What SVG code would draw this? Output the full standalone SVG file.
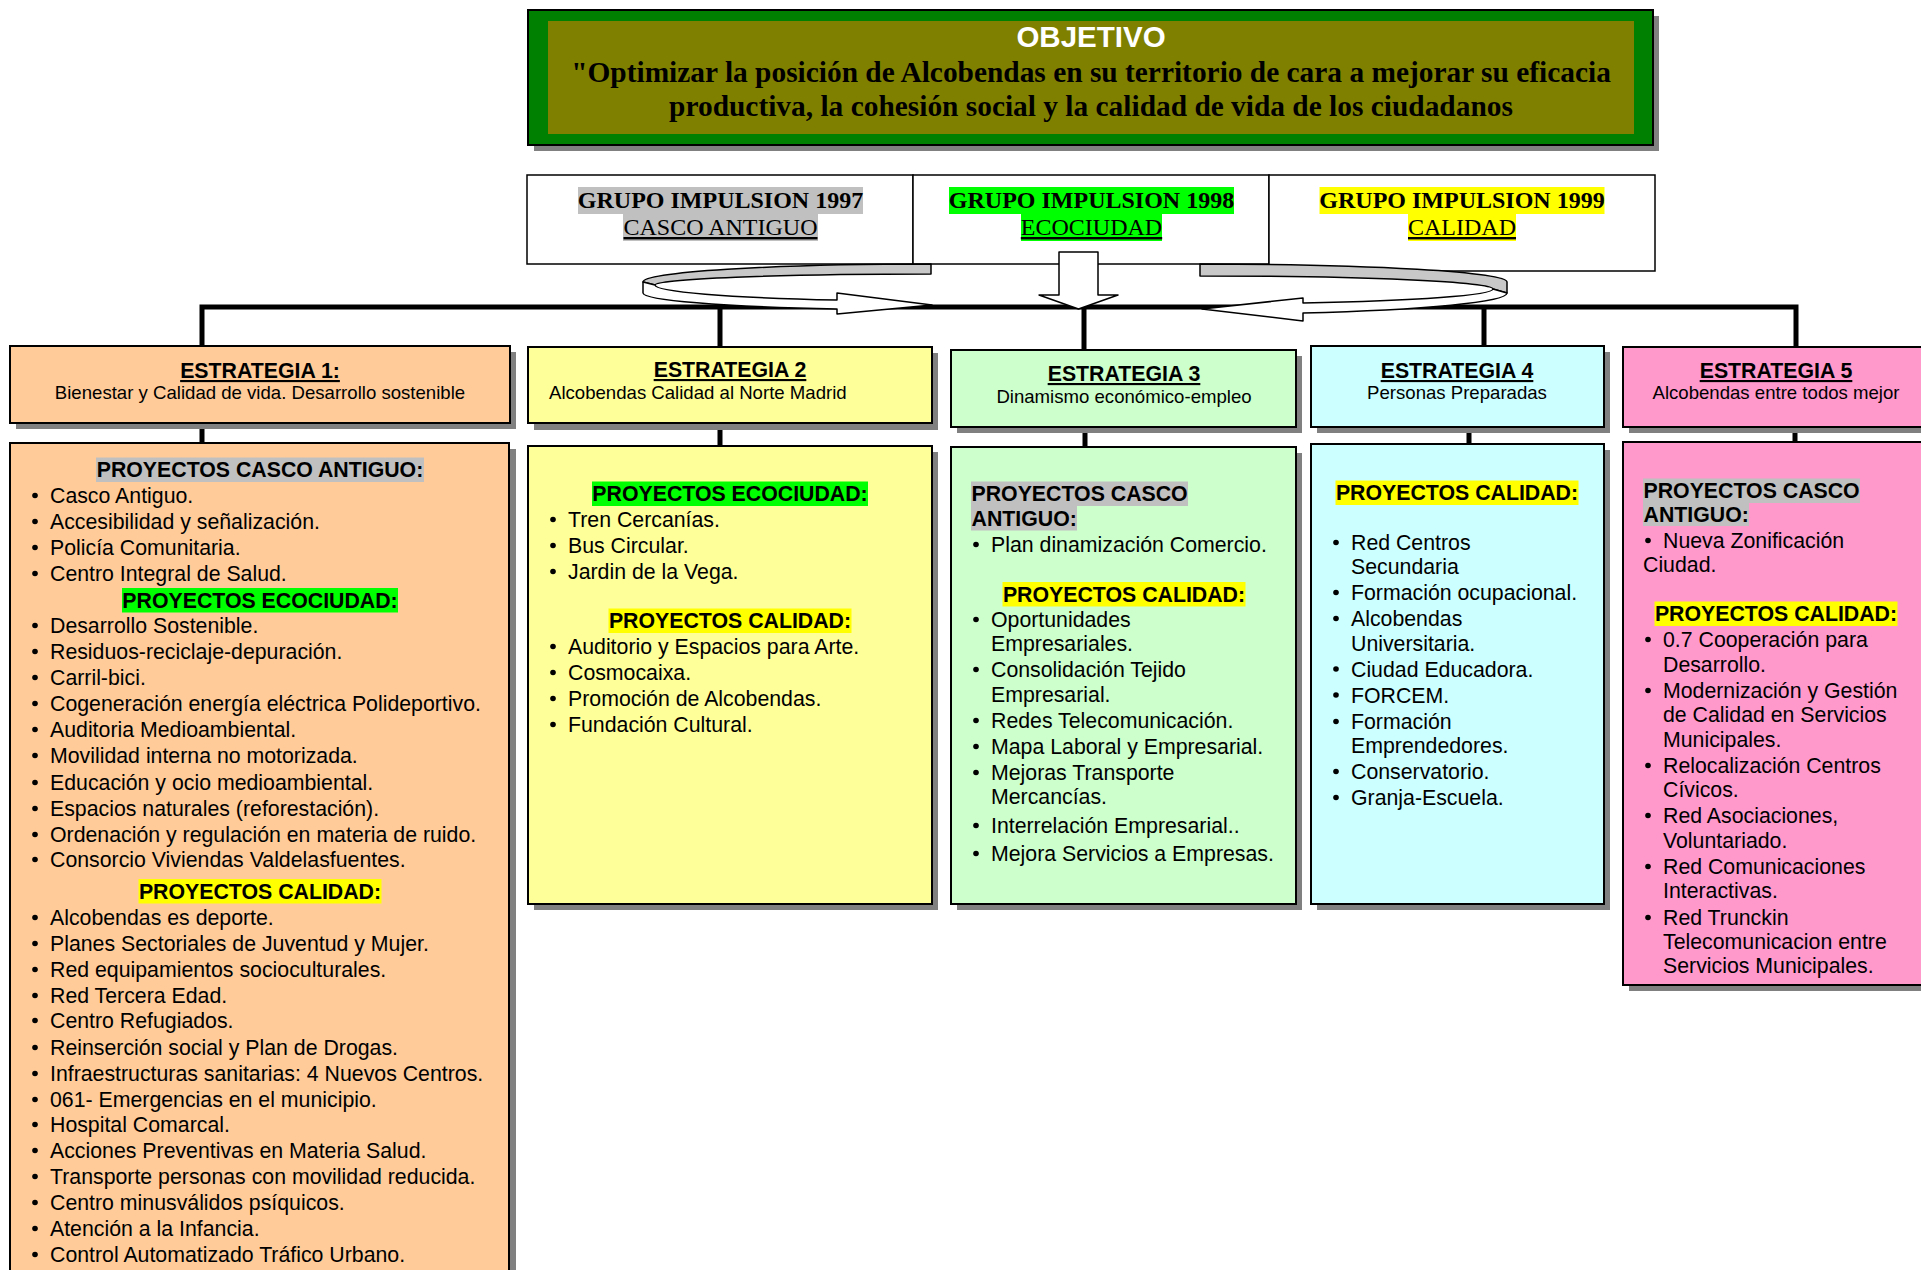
<svg xmlns="http://www.w3.org/2000/svg" width="1921" height="1270" viewBox="0 0 1921 1270">
<style>
.f{font-family:"Liberation Sans",Arial,sans-serif;font-size:21.3px;fill:#000}
.s{font-family:"Liberation Serif","Times New Roman",serif;font-size:24px;fill:#000}
.b{font-weight:bold}
.c{text-anchor:middle}
.sub{font-size:18.6px}
.u{text-decoration:underline}
.bx{stroke:#000;stroke-width:2}
.gb{fill:#fff;stroke:#000;stroke-width:1.5}
.sh{fill:#808080}
.hg{fill:#C0C0C0}.hgr{fill:#00FF00}.hy{fill:#FFFF00}
.e1{fill:#FFCC99}.e2{fill:#FFFF99}.e3{fill:#CCFFCC}.e4{fill:#CCFFFF}.e5{fill:#FF99CC}
.ln{fill:none;stroke:#000;stroke-width:5}
.ar{stroke:#000;stroke-width:1.5;stroke-linejoin:round}
</style>
<defs>
<circle id="bu" r="2.8" fill="#000"/>
</defs>

<!-- Objective -->
<g id="objetivo">
<rect x="534" y="16" width="1125" height="135" class="sh"/>
<rect x="528" y="10" width="1125" height="135" fill="#008000" stroke="#000" stroke-width="2"/>
<rect x="548" y="21" width="1086" height="113" fill="#808000"/>
<text x="1091" y="47" class="f b c" style="font-size:29.5px;fill:#fff">OBJETIVO</text>
<text x="1091" y="82" class="s b c" style="font-size:29.4px">"Optimizar la posición de Alcobendas en su territorio de cara a mejorar su eficacia</text>
<text x="1091" y="116" class="s b c" style="font-size:29.4px">productiva, la cohesión social y la calidad de vida de los ciudadanos</text>
</g>

<!-- Grupos -->
<g id="grupo1997">
<rect x="527" y="175" width="386" height="89" class="gb"/>
<rect x="578" y="187" width="285" height="27" class="hg"/>
<rect x="623" y="214" width="195" height="27" class="hg"/>
<text x="720.5" y="208" class="s b c">GRUPO IMPULSION 1997</text>
<text x="720.5" y="235" class="s c u">CASCO ANTIGUO</text>
</g>
<g id="grupo1998">
<rect x="913" y="175" width="356" height="89" class="gb"/>
<rect x="949" y="187" width="285" height="27" class="hgr"/>
<rect x="1021" y="214" width="141" height="27" class="hgr"/>
<text x="1091.5" y="208" class="s b c">GRUPO IMPULSION 1998</text>
<text x="1091.5" y="235" class="s c u">ECOCIUDAD</text>
</g>
<g id="grupo1999">
<rect x="1269" y="175" width="386" height="96" class="gb"/>
<rect x="1319.5" y="187" width="285" height="27" class="hy"/>
<rect x="1408" y="214" width="108" height="27" class="hy"/>
<text x="1462" y="208" class="s b c">GRUPO IMPULSION 1999</text>
<text x="1462" y="235" class="s c u">CALIDAD</text>
</g>

<!-- Connectors -->
<g id="connectors">
<path class="ln" d="M202,346V307H1796V347"/>
<path class="ln" d="M720,307V347M1084,307V350M1484,307V346"/>
<path class="ln" d="M202,423V443M720,423V446M1085,427V447M1469,427V444M1795,427V442"/>
<!-- left curved arrow -->
<path class="ar" fill="#C8C8C8" d="M931,264A288 18 0 0 0 643,282L655,285A276 11 0 0 1 931,274Z"/>
<path class="ar" fill="#fff" d="M643,282L655,285A276 16 0 0 0 837,300L837,293L932,305L837,314L837,309A288 17 0 0 1 643,293Z"/>
<!-- right curved arrow -->
<path class="ar" fill="#C8C8C8" d="M1200,264A307 18 0 0 1 1507,282L1507,293L1493,289A293 13 0 0 0 1200,276Z"/>
<path class="ar" fill="#fff" d="M1493,289A293 15 0 0 1 1303,303L1303,298L1202,309L1303,321L1303,313A307 21.2 0 0 0 1507,293Z"/>
<!-- down arrow -->
<path class="ar" fill="#fff" stroke-linejoin="miter" d="M1059,252H1098V295H1118L1078.5,309L1039,295H1059Z"/>
</g>

<!-- Estrategia 1 -->
<g id="estrategia1">
<rect x="16" y="352" width="500" height="77" class="sh"/>
<rect x="10" y="346" width="500" height="77" class="e1 bx"/>
<text x="260" y="378" class="f b c u">ESTRATEGIA 1:</text>
<text x="260" y="399" class="f c sub">Bienestar y Calidad de vida. Desarrollo sostenible</text>
</g>
<g id="proyectos1">
<rect x="16" y="449" width="500" height="850" class="sh"/>
<rect x="10" y="443" width="499" height="850" class="e1 bx"/>
<rect x="96" y="457.5" width="328" height="24.5" class="hg"/>
<text x="260" y="477" class="f b c">PROYECTOS CASCO ANTIGUO:</text>
<g class="f">
<use href="#bu" x="35" y="495.5"/><text x="50" y="503">Casco Antiguo.</text>
<use href="#bu" x="35" y="521.5"/><text x="50" y="529">Accesibilidad y señalización.</text>
<use href="#bu" x="35" y="547.5"/><text x="50" y="555">Policía Comunitaria.</text>
<use href="#bu" x="35" y="573.5"/><text x="50" y="581">Centro Integral de Salud.</text>
</g>
<rect x="122" y="588" width="276" height="24.5" class="hgr"/>
<text x="260" y="607.5" class="f b c">PROYECTOS ECOCIUDAD:</text>
<g class="f">
<use href="#bu" x="35" y="625.5"/><text x="50" y="633">Desarrollo Sostenible.</text>
<use href="#bu" x="35" y="651.5"/><text x="50" y="659">Residuos-reciclaje-depuración.</text>
<use href="#bu" x="35" y="677.5"/><text x="50" y="685">Carril-bici.</text>
<use href="#bu" x="35" y="703.5"/><text x="50" y="711">Cogeneración energía eléctrica Polideportivo.</text>
<use href="#bu" x="35" y="729.5"/><text x="50" y="737">Auditoria Medioambiental.</text>
<use href="#bu" x="35" y="755.5"/><text x="50" y="763">Movilidad interna no motorizada.</text>
<use href="#bu" x="35" y="782.5"/><text x="50" y="790">Educación y ocio medioambiental.</text>
<use href="#bu" x="35" y="808.5"/><text x="50" y="816">Espacios naturales (reforestación).</text>
<use href="#bu" x="35" y="834.5"/><text x="50" y="842">Ordenación y regulación en materia de ruido.</text>
<use href="#bu" x="35" y="859.5"/><text x="50" y="867">Consorcio Viviendas Valdelasfuentes.</text>
</g>
<rect x="138.5" y="879" width="243" height="24.5" class="hy"/>
<text x="260" y="898.5" class="f b c">PROYECTOS CALIDAD:</text>
<g class="f">
<use href="#bu" x="35" y="917.5"/><text x="50" y="925">Alcobendas es deporte.</text>
<use href="#bu" x="35" y="943.5"/><text x="50" y="951">Planes Sectoriales de Juventud y Mujer.</text>
<use href="#bu" x="35" y="969.5"/><text x="50" y="977">Red equipamientos socioculturales.</text>
<use href="#bu" x="35" y="995.5"/><text x="50" y="1003">Red Tercera Edad.</text>
<use href="#bu" x="35" y="1020.5"/><text x="50" y="1028">Centro Refugiados.</text>
<use href="#bu" x="35" y="1047.5"/><text x="50" y="1055">Reinserción social y Plan de Drogas.</text>
<use href="#bu" x="35" y="1073.5"/><text x="50" y="1081">Infraestructuras sanitarias: 4 Nuevos Centros.</text>
<use href="#bu" x="35" y="1099.5"/><text x="50" y="1107">061- Emergencias en el municipio.</text>
<use href="#bu" x="35" y="1124.5"/><text x="50" y="1132">Hospital Comarcal.</text>
<use href="#bu" x="35" y="1150.5"/><text x="50" y="1158">Acciones Preventivas en Materia Salud.</text>
<use href="#bu" x="35" y="1176.5"/><text x="50" y="1184">Transporte personas con movilidad reducida.</text>
<use href="#bu" x="35" y="1202.5"/><text x="50" y="1210">Centro minusválidos psíquicos.</text>
<use href="#bu" x="35" y="1228.5"/><text x="50" y="1236">Atención a la Infancia.</text>
<use href="#bu" x="35" y="1254.5"/><text x="50" y="1262">Control Automatizado Tráfico Urbano.</text>
</g>
</g>

<!-- Estrategia 2 -->
<g id="estrategia2">
<rect x="534" y="353" width="404" height="77" class="sh"/>
<rect x="528" y="347" width="404" height="76" class="e2 bx"/>
<text x="730" y="377" class="f b c u">ESTRATEGIA 2</text>
<text x="549" y="399" class="f sub">Alcobendas Calidad al Norte Madrid</text>
</g>
<g id="proyectos2">
<rect x="534" y="452" width="404" height="458" class="sh"/>
<rect x="528" y="446" width="404" height="458" class="e2 bx"/>
<rect x="592" y="481.5" width="276" height="24.5" class="hgr"/>
<text x="730" y="501" class="f b c">PROYECTOS ECOCIUDAD:</text>
<g class="f">
<use href="#bu" x="553" y="519.5"/><text x="568" y="527">Tren Cercanías.</text>
<use href="#bu" x="553" y="545.5"/><text x="568" y="553">Bus Circular.</text>
<use href="#bu" x="553" y="571.5"/><text x="568" y="579">Jardin de la Vega.</text>
</g>
<rect x="608.5" y="608.5" width="243" height="24.5" class="hy"/>
<text x="730" y="628" class="f b c">PROYECTOS CALIDAD:</text>
<g class="f">
<use href="#bu" x="553" y="646.5"/><text x="568" y="654">Auditorio y Espacios para Arte.</text>
<use href="#bu" x="553" y="672.5"/><text x="568" y="680">Cosmocaixa.</text>
<use href="#bu" x="553" y="698.5"/><text x="568" y="706">Promoción de Alcobendas.</text>
<use href="#bu" x="553" y="724.5"/><text x="568" y="732">Fundación Cultural.</text>
</g>
</g>

<!-- Estrategia 3 -->
<g id="estrategia3">
<rect x="957" y="356" width="345" height="77" class="sh"/>
<rect x="951" y="350" width="345" height="77" class="e3 bx"/>
<text x="1124" y="381" class="f b c u">ESTRATEGIA 3</text>
<text x="1124" y="403" class="f c sub">Dinamismo económico-empleo</text>
</g>
<g id="proyectos3">
<rect x="957" y="453" width="345" height="457" class="sh"/>
<rect x="951" y="447" width="345" height="457" class="e3 bx"/>
<rect x="971" y="481.5" width="217" height="24.5" class="hg"/>
<rect x="971" y="506" width="106" height="24.5" class="hg"/>
<text x="971.5" y="501" class="f b">PROYECTOS CASCO</text>
<text x="971.5" y="526" class="f b">ANTIGUO:</text>
<g class="f">
<use href="#bu" x="976" y="544.5"/><text x="991" y="552">Plan dinamización Comercio.</text>
</g>
<rect x="1002.5" y="582" width="243" height="24.5" class="hy"/>
<text x="1124" y="601.5" class="f b c">PROYECTOS CALIDAD:</text>
<g class="f">
<use href="#bu" x="976" y="619.5"/><text x="991" y="627">Oportunidades</text>
<text x="991" y="651">Empresariales.</text>
<use href="#bu" x="976" y="669.5"/><text x="991" y="677">Consolidación Tejido</text>
<text x="991" y="702">Empresarial.</text>
<use href="#bu" x="976" y="720.5"/><text x="991" y="728">Redes Telecomunicación.</text>
<use href="#bu" x="976" y="746.5"/><text x="991" y="754">Mapa Laboral y Empresarial.</text>
<use href="#bu" x="976" y="772.5"/><text x="991" y="780">Mejoras Transporte</text>
<text x="991" y="804">Mercancías.</text>
<use href="#bu" x="976" y="825.5"/><text x="991" y="833">Interrelación Empresarial..</text>
<use href="#bu" x="976" y="853.5"/><text x="991" y="861">Mejora Servicios a Empresas.</text>
</g>
</g>

<!-- Estrategia 4 -->
<g id="estrategia4">
<rect x="1317" y="352" width="293" height="81" class="sh"/>
<rect x="1311" y="346" width="293" height="81" class="e4 bx"/>
<text x="1457" y="378" class="f b c u">ESTRATEGIA 4</text>
<text x="1457" y="399" class="f c sub">Personas Preparadas</text>
</g>
<g id="proyectos4">
<rect x="1317" y="450" width="293" height="460" class="sh"/>
<rect x="1311" y="444" width="293" height="460" class="e4 bx"/>
<rect x="1335.5" y="480.5" width="243" height="24.5" class="hy"/>
<text x="1457" y="500" class="f b c">PROYECTOS CALIDAD:</text>
<g class="f">
<use href="#bu" x="1336" y="542.5"/><text x="1351" y="550">Red Centros</text>
<text x="1351" y="574">Secundaria</text>
<use href="#bu" x="1336" y="592.5"/><text x="1351" y="600">Formación ocupacional.</text>
<use href="#bu" x="1336" y="618.5"/><text x="1351" y="626">Alcobendas</text>
<text x="1351" y="650.5">Universitaria.</text>
<use href="#bu" x="1336" y="669"/><text x="1351" y="676.5">Ciudad Educadora.</text>
<use href="#bu" x="1336" y="695"/><text x="1351" y="702.5">FORCEM.</text>
<use href="#bu" x="1336" y="721.5"/><text x="1351" y="729">Formación</text>
<text x="1351" y="753">Emprendedores.</text>
<use href="#bu" x="1336" y="771.5"/><text x="1351" y="779">Conservatorio.</text>
<use href="#bu" x="1336" y="797.5"/><text x="1351" y="805">Granja-Escuela.</text>
</g>
</g>

<!-- Estrategia 5 -->
<g id="estrategia5">
<rect x="1629" y="353" width="310" height="80" class="sh"/>
<rect x="1623" y="347" width="310" height="80" class="e5 bx"/>
<text x="1776" y="378" class="f b c u">ESTRATEGIA 5</text>
<text x="1776" y="399" class="f c sub">Alcobendas entre todos mejor</text>
</g>
<g id="proyectos5">
<rect x="1629" y="448" width="310" height="543" class="sh"/>
<rect x="1623" y="442" width="310" height="543" class="e5 bx"/>
<rect x="1643" y="478.5" width="217" height="24.5" class="hg"/>
<rect x="1643" y="502" width="106" height="24" class="hg"/>
<text x="1643.5" y="498" class="f b">PROYECTOS CASCO</text>
<text x="1643.5" y="521.5" class="f b">ANTIGUO:</text>
<g class="f">
<use href="#bu" x="1648" y="540.5"/><text x="1663" y="548">Nueva Zonificación</text>
<text x="1643" y="572">Ciudad.</text>
</g>
<rect x="1654.5" y="601.5" width="243" height="24.5" class="hy"/>
<text x="1776" y="621" class="f b c">PROYECTOS CALIDAD:</text>
<g class="f">
<use href="#bu" x="1648" y="639.5"/><text x="1663" y="647">0.7 Cooperación para</text>
<text x="1663" y="672">Desarrollo.</text>
<use href="#bu" x="1648" y="690.5"/><text x="1663" y="698">Modernización y Gestión</text>
<text x="1663" y="722">de Calidad en Servicios</text>
<text x="1663" y="747">Municipales.</text>
<use href="#bu" x="1648" y="765.5"/><text x="1663" y="773">Relocalización Centros</text>
<text x="1663" y="797">Cívicos.</text>
<use href="#bu" x="1648" y="815.5"/><text x="1663" y="823">Red Asociaciones,</text>
<text x="1663" y="848">Voluntariado.</text>
<use href="#bu" x="1648" y="866.5"/><text x="1663" y="874">Red Comunicaciones</text>
<text x="1663" y="898">Interactivas.</text>
<use href="#bu" x="1648" y="917.5"/><text x="1663" y="925">Red Trunckin</text>
<text x="1663" y="949">Telecomunicacion entre</text>
<text x="1663" y="973">Servicios Municipales.</text>
</g>
</g>
</svg>
